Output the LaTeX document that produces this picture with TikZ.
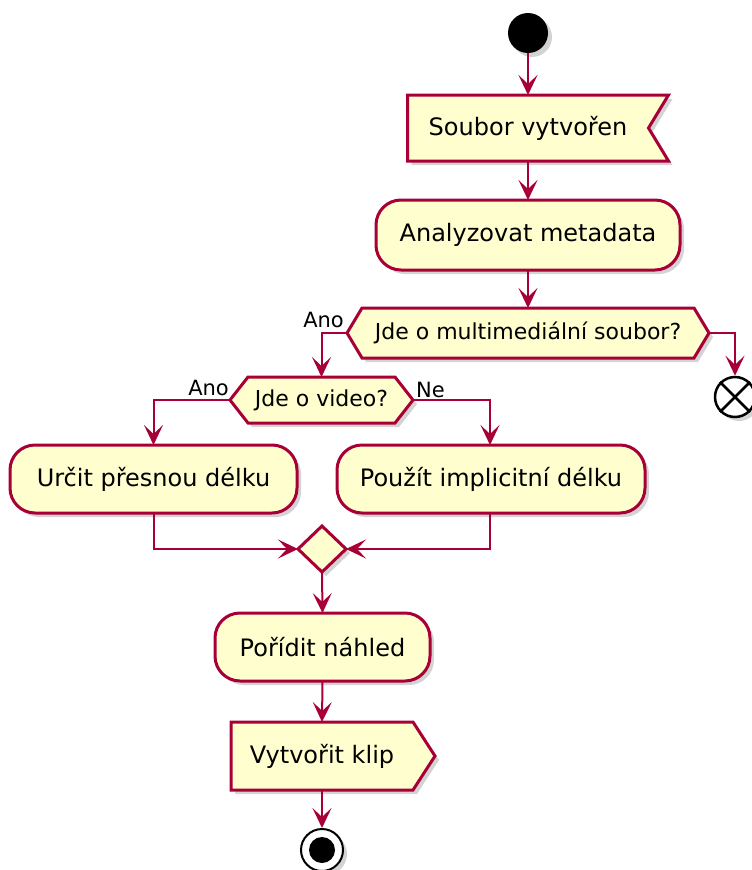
\documentclass[tikz,border=0pt]{standalone}
\usepackage{fontspec}
\setmainfont{DejaVu Sans}
\usetikzlibrary{arrows.meta,shadows,backgrounds,calc}
\definecolor{pfill}{HTML}{FEFECE}
\definecolor{pline}{HTML}{A80036}
\begin{document}
\begin{tikzpicture}[x=1pt,y=-1pt,
  shad/.style={drop shadow={opacity=0.35,shadow xshift=4pt,shadow yshift=-4pt}},
  txt/.style={inner sep=0pt,outer sep=0pt,font=\fontsize{24}{28}\selectfont},
  dtxt/.style={inner sep=0pt,outer sep=0pt,font=\fontsize{22}{26}\selectfont},
  lbl/.style={inner sep=0pt,font=\fontsize{21}{24}\selectfont},
  shp/.style={draw=pline,fill=pfill,line width=3pt,line join=miter,shad},
  actbox/.style={txt,draw=pline,fill=pfill,line width=3pt,rounded corners=25pt,shad},
  arr/.style={draw=pline,line width=2pt,-{Stealth[length=20pt,width=19pt,inset=9pt]}},
  ln/.style={draw=pline,line width=2pt}
]
\useasboundingbox (0,0) rectangle (752,870);

% start
\node[circle,fill=black,minimum size=40pt,inner sep=0pt,shad] (start) at (528,33) {};

% receive signal
\node[txt,minimum width=241pt,minimum height=66pt] (s1) at (528,128) {Soubor vytvořen};

% activity
\node[actbox,minimum width=304pt,minimum height=70pt] (a1) at (528,235) {Analyzovat metadata};

% decision 1
\node[dtxt,minimum width=362pt,minimum height=50pt] (d1) at (528,333) {Jde o multimediální soubor?};

% end (x)
\node[circle,draw=black,fill=white,line width=2.5pt,minimum size=40pt,inner sep=0pt,shad] (e1) at (735,397) {};
\draw[black,line width=2.5pt] (e1.north west) -- (e1.south east) (e1.north east) -- (e1.south west);

% decision 2
\node[dtxt,minimum width=183pt,minimum height=46pt] (d2) at (321.5,400) {Jde o video?};

% branch boxes
\node[actbox,minimum width=287pt,minimum height=68pt] (b1) at (153.5,479) {Určit přesnou délku};
\node[actbox,minimum width=308pt,minimum height=68pt] (b2) at (491,479) {Použít implicitní délku};

% merge
\node[inner sep=0pt,outer sep=0pt,minimum width=48pt,minimum height=46pt] (m) at (322,549) {};

% activity
\node[actbox,minimum width=215pt,minimum height=68pt] (p) at (322.5,647) {Pořídit náhled};

% send signal
\node[txt,minimum width=182pt,minimum height=68pt] (v) at (322,756) {Vytvořit klip};

% stop
\node[circle,draw=black,fill=white,line width=2pt,minimum size=42pt,inner sep=0pt,shad] (stop) at (322,850) {};
\fill[black] (stop.center) circle (13pt);

\begin{pgfonlayer}{background}
\path[shp] (s1.north west) -- ([xshift=20pt]s1.north east) -- (s1.east) -- ([xshift=20pt]s1.south east) -- (s1.south west) -- cycle;
\path[shp] (d1.west) -- ([xshift=15pt]d1.north west) -- ([xshift=-15pt]d1.north east) -- (d1.east) -- ([xshift=-15pt]d1.south east) -- ([xshift=15pt]d1.south west) -- cycle;
\path[shp] (d2.west) -- ([xshift=18pt]d2.north west) -- ([xshift=-18pt]d2.north east) -- (d2.east) -- ([xshift=-18pt]d2.south east) -- ([xshift=18pt]d2.south west) -- cycle;
\path[shp] (m.north) -- (m.east) -- (m.south) -- (m.west) -- cycle;
\path[shp] (v.north west) -- (v.north east) -- ([xshift=22pt]v.east) -- (v.south east) -- (v.south west) -- cycle;
\end{pgfonlayer}

% connectors
\draw[arr] (start) -- (s1.north);
\draw[arr] (s1.south) -- (a1.north);
\draw[arr] (a1.south) -- (d1.north);
\draw[arr] (d1.west) -| (d2.north);
\draw[arr] (d1.east) -| (e1.north);
\draw[arr] (d2.west) -| (b1.north);
\draw[arr] (d2.east) -| (b2.north -| 490,0);
\draw[arr] (b1.south) |- (m.west);
\draw[arr] (b2.south -| 490,0) |- (m.east);
\draw[arr] (m.south) -- (p.north);
\draw[arr] (p.south) -- (v.north);
\draw[arr] (v.south) -- (stop.north);

% labels
\node[lbl,anchor=base east] (l1) at (344,327) {Ano};
\node[lbl,anchor=base east] (l2) at (229,395) {Ano};
\node[lbl,anchor=base west] (l3) at (416,397) {Ne};
\end{tikzpicture}
\end{document}
